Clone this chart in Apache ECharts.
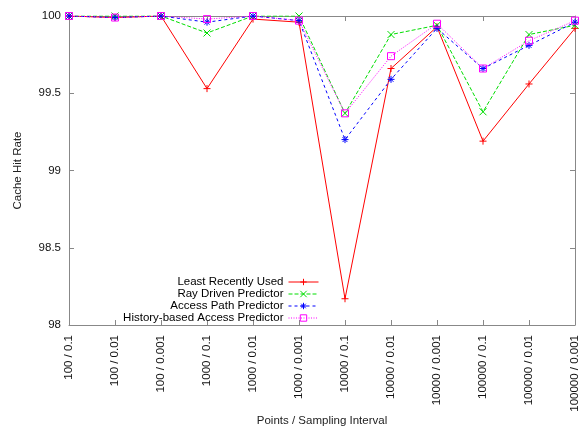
<!DOCTYPE html>
<html><head><meta charset="utf-8">
<script src="https://cdn.jsdelivr.net/npm/echarts@6/dist/echarts.min.js"></script>
<style>html,body{margin:0;padding:0;background:#fff}#c{width:579px;height:427px}</style>
</head><body><div id="c"></div>
<script>
const categories = ['100 / 0.1','100 / 0.01','100 / 0.001','1000 / 0.1','1000 / 0.01','1000 / 0.001','10000 / 0.1','10000 / 0.01','10000 / 0.001','100000 / 0.1','100000 / 0.01','100000 / 0.001'];
const lru      = [100, 99.99, 100, 99.53, 99.98, 99.96, 98.17, 99.66, 99.93, 99.19, 99.56, 99.92];
const rayDriven= [100, 100, 100, 99.89, 100, 100, 99.37, 99.88, 99.94, 99.38, 99.88, 99.94];
const accessPath=[100, 99.99, 100, 99.96, 100, 99.97, 99.20, 99.59, 99.92, 99.66, 99.81, 99.96];
const history  = [100, 99.99, 100, 99.98, 100, 99.97, 99.37, 99.74, 99.95, 99.66, 99.84, 99.97];
const seriesNames = ['Least Recently Used','Ray Driven Predictor','Access Path Predictor','History-based Access Predictor'];

const FONT = 'Liberation Sans';
const frame = '#888';
const SYM = {
  plus:'path://M5,0L5,10M0,5L10,5',
  cross:'path://M0,0L10,10M10,0L0,10',
  star:'path://M5,0L5,10M0,5L10,5M1.5,1.5L8.5,8.5M8.5,1.5L1.5,8.5',
  square:'path://M0,0L10,0L10,10L0,10Z'
};
function mk(name, data, color, symbol, dash){
  return {
    name, type:'line', data, symbol, symbolSize:7, showSymbol:true,
    lineStyle:{color, width:1, type:dash},
    itemStyle:{color:'rgba(0,0,0,0)', borderColor:color, borderWidth:1},
    emphasis:{disabled:true}, z:3
  };
}
const colors = ['#ff0000','#00dd00','#0000ff','#ff00ff'];
const syms = [SYM.plus, SYM.cross, SYM.star, SYM.square];
const dashes = ['solid',[4,2],[3,3],[1,1.5]];
const chart = echarts.init(document.getElementById('c'));
chart.setOption({
  animation:false,
  grid:{left:69, right:4, top:16, bottom:102, outerBoundsMode:'none', containLabel:false},
  legend:{
    orient:'vertical', right:255, top:271, align:'right', itemWidth:30, itemHeight:8, itemGap:0,
    textStyle:{fontFamily:FONT, fontSize:11.5, color:'#000', lineHeight:11.7},
    itemStyle:{color:'rgba(0,0,0,0)', borderWidth:1},
    lineStyle:{width:1},
    data: seriesNames
  },
  xAxis:[{
    type:'category', data:categories, boundaryGap:false,
    name:'Points / Sampling Interval', nameLocation:'middle', nameGap:96, nameMoveOverlap:false,
    nameTextStyle:{fontFamily:FONT, fontSize:11.5, color:'#222', verticalAlign:'middle'},
    axisLine:{lineStyle:{color:frame}},
    axisTick:{inside:true, length:5, lineStyle:{color:frame}},
    axisLabel:{rotate:90, margin:10, fontFamily:FONT, fontSize:11.5, color:'#111', interval:0},
    splitLine:{show:false}
  },{
    type:'category', data:categories, boundaryGap:false, position:'top',
    axisLine:{lineStyle:{color:frame}},
    axisTick:{inside:true, length:5, lineStyle:{color:frame}},
    axisLabel:{show:false}, splitLine:{show:false}
  }],
  yAxis:[{
    type:'value', min:98, max:100, interval:0.5,
    name:'Cache Hit Rate', nameLocation:'middle', nameGap:45, nameMoveOverlap:false,
    nameTextStyle:{fontFamily:FONT, fontSize:11.5, color:'#222'},
    axisLine:{show:true, lineStyle:{color:frame}},
    axisTick:{show:true, inside:true, length:5, lineStyle:{color:frame}},
    axisLabel:{fontFamily:FONT, fontSize:11.5, color:'#111', margin:8},
    splitLine:{show:false}
  },{
    type:'value', min:98, max:100, interval:0.5, position:'right',
    axisLine:{show:true, lineStyle:{color:frame}},
    axisTick:{show:true, inside:true, length:5, lineStyle:{color:frame}},
    axisLabel:{show:false}, splitLine:{show:false}
  }],
  series:[
    mk(seriesNames[0], lru, colors[0], syms[0], dashes[0]),
    mk(seriesNames[1], rayDriven, colors[1], syms[1], dashes[1]),
    mk(seriesNames[2], accessPath, colors[2], syms[2], dashes[2]),
    mk(seriesNames[3], history, colors[3], syms[3], dashes[3])
  ]
});
</script></body></html>
